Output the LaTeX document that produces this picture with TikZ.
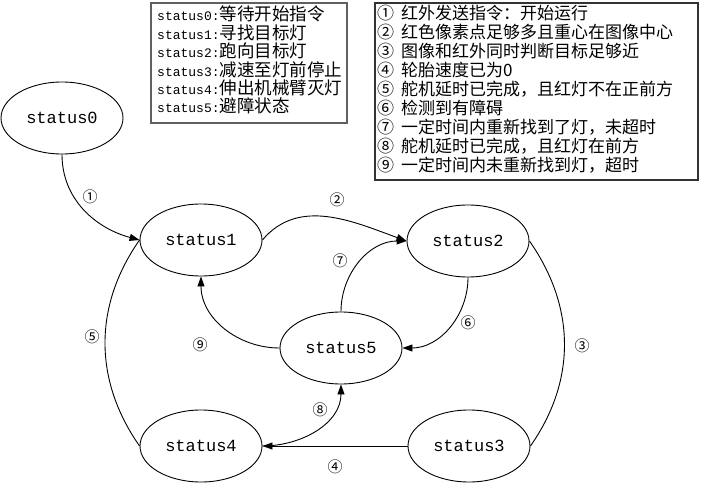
\documentclass[tikz,border=0pt]{standalone}
\usepackage{fontspec}
\usetikzlibrary{shapes.geometric,arrows.meta}
\newfontfamily\cjk{Noto Sans CJK SC}
\newfontfamily\monofam{Liberation Mono}
\tikzset{
  st/.style={ellipse,draw,line width=0.9pt,minimum width=122pt,minimum height=72pt,inner sep=0pt,
     font=\monofam\fontsize{17}{20}\selectfont},
  edge/.style={line width=0.9pt},
  arr/.style={edge,-{Triangle[length=10pt,width=7pt]}},
  lab/.style={font=\cjk\fontsize{15}{17}\selectfont,inner sep=0pt},
  legA/.style={anchor=base west,inner sep=0pt},
  legB/.style={anchor=base west,inner sep=0pt,font=\cjk\fontsize{17}{19}\selectfont},
}
\newcommand\sn[1]{{\monofam\fontsize{13}{15}\selectfont #1}}
\newcommand\zh[1]{{\cjk\fontsize{17.5}{19}\selectfont #1}}
\newcommand\gp{\hspace{7pt}}
\begin{document}
\begin{tikzpicture}[x=1pt,y=1pt]
\useasboundingbox (0,0) rectangle (702,-484);
\fill[white] (0,0) rectangle (702,-484);
% legend box 1
\draw[draw=gray!75!black,line width=2pt] (151,-3) rectangle (347,-123);
\node[legA] (a0) at (157,-21) {\sn{status0:}\zh{等待开始指令}};
\node[legA] (a1) at (157,-39.4) {\sn{status1:}\zh{寻找目标灯}};
\node[legA] (a2) at (157,-57.8) {\sn{status2:}\zh{跑向目标灯}};
\node[legA] (a3) at (157,-76.2) {\sn{status3:}\zh{减速至灯前停止}};
\node[legA] (a4) at (157,-94.6) {\sn{status4:}\zh{伸出机械臂灭灯}};
\node[legA] (a5) at (157,-113) {\sn{status5:}\zh{避障状态}};
% legend box 2
\draw[draw=black!80,line width=1.2pt] (375,-3) rectangle (698,-180);
\node[legB] (b1) at (377,-20) {①\gp 红外发送指令：开始运行};
\node[legB] (b2) at (377,-38.9) {②\gp 红色像素点足够多且重心在图像中心};
\node[legB] (b3) at (377,-57.8) {③\gp 图像和红外同时判断目标足够近};
\node[legB] (b4) at (377,-76.7) {④\gp 轮胎速度已为0};
\node[legB] (b5) at (377,-95.6) {⑤\gp 舵机延时已完成，且红灯不在正前方};
\node[legB] (b6) at (377,-114.5) {⑥\gp 检测到有障碍};
\node[legB] (b7) at (377,-133.4) {⑦\gp 一定时间内重新找到了灯，未超时};
\node[legB] (b8) at (377,-152.3) {⑧\gp 舵机延时已完成，且红灯在前方};
\node[legB] (b9) at (377,-171.2) {⑨\gp 一定时间内未重新找到灯，超时};
% states
\node[st] (s0) at (62,-118) {status0};
\node[st] (s1) at (201,-240) {status1};
\node[st] (s2) at (468,-241) {status2};
\node[st] (s5) at (341,-348) {status5};
\node[st] (s4) at (201,-446) {status4};
\node[st] (s3) at (469,-446) {status3};
% edges
\draw[arr] (s0.south) to[out=-90,in=165] (s1.west);
\draw[arr] (s1.east) to[out=50,in=160] (s2.west);
\draw[edge] (s2.east) to[out=-55,in=55] (s3.east);
\draw[arr] (s3.west) -- (s4.east);
\draw[edge] (s4.west) to[out=125,in=-125] (s1.west);
\draw[arr] (s2.south) to[out=-90,in=0] (s5.east);
\draw[arr] (s5.north) to[out=90,in=180] (s2.west);
\draw[arr] (s4.east) to[out=0,in=-90] (s5.south);
\draw[arr] (s5.west) to[out=180,in=-90] (s1.south);
% labels
\node[lab] (e1) at (90,-197) {①};
\node[lab] (e2) at (337,-200) {②};
\node[lab] (e3) at (582,-346) {③};
\node[lab] (e4) at (335,-467) {④};
\node[lab] (e5) at (92,-337) {⑤};
\node[lab] (e6) at (468,-323) {⑥};
\node[lab] (e7) at (340,-261) {⑦};
\node[lab] (e8) at (320,-410) {⑧};
\node[lab] (e9) at (200,-345) {⑨};
\end{tikzpicture}
\end{document}
